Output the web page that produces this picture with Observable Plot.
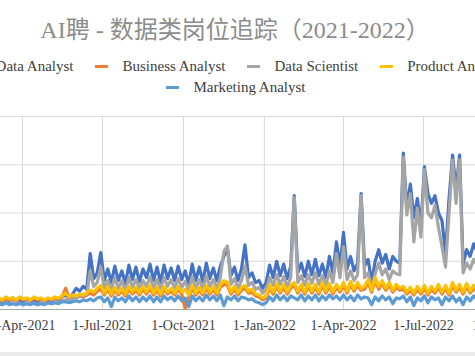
<!DOCTYPE html>
<html><head><meta charset="utf-8">
<script src="https://cdn.jsdelivr.net/npm/d3@7"></script>
<script src="https://cdn.jsdelivr.net/npm/@observablehq/plot@0.6"></script>
<style>
body{margin:0;background:#fff;}
:root{--serif:"Liberation Serif","Times New Roman",Times,Tinos,"Noto Serif","DejaVu Serif",serif;}
#frame{position:relative;width:475px;height:356px;overflow:hidden;background:#fff;font-family:var(--serif);}
#title{position:absolute;left:0;width:470px;top:15px;line-height:30px;text-align:center;font-size:24px;color:#8c8c8c;font-family:"Liberation Serif","Times New Roman",Times,"Noto Sans CJK SC",serif;white-space:nowrap;}
.legrow{position:absolute;left:-100px;width:672px;display:flex;justify-content:center;gap:22px;font-size:15px;line-height:20px;color:#404040;white-space:nowrap;font-family:var(--serif);}
.item{display:flex;align-items:center;}
.sw{width:13px;height:3px;margin-right:14px;}
#chart{position:absolute;left:0;top:100px;}
#bottom{position:absolute;left:0;bottom:0;width:475px;height:4px;background:#ebebeb;}
</style></head>
<body>
<div id="frame">
  <div id="title"></div>
  <div class="legrow" id="row1" style="top:56px"></div>
  <div class="legrow" id="row2" style="top:77px"></div>
  <div id="chart"></div>
  <div id="bottom"></div>
</div>
<script>
const titleText = "AI聘 - 数据类岗位追踪（2021-2022）";
const seriesNames = ["Data Analyst", "Business Analyst", "Data Scientist", "Product Analyst", "Marketing Analyst"];
const seriesColors = ["#4472C4", "#ED7D31", "#A5A5A5", "#FFC000", "#5B9BD5"];
const startDate = "2021-03-05";   // first sample, one sample every 4 days
const stepDays = 4;
const tickLabels = ["2021-04-01", "2021-07-01", "2021-10-01", "2022-01-01", "2022-04-01", "2022-07-01", "2022-10-01"];

const dataAnalyst = [
  10, 8, 11, 9, 12, 9, 10, 8, 11, 9,
  10, 8, 11, 9, 10, 9, 12, 10, 13, 15,
  12, 16, 22, 19, 24, 21, 58, 32, 38, 59,
  30, 42, 28, 45, 30, 40, 27, 46, 31, 44,
  29, 42, 33, 47, 30, 44, 28, 46, 32, 43,
  30, 45, 31, 40, 26, 47, 30, 44, 29, 48,
  32, 43, 30, 45, 55, 64, 35, 44, 30, 42,
  67, 33, 38, 28, 30, 22, 28, 46, 33, 50,
  35, 47, 32, 45, 118, 38, 48, 34, 50, 36,
  52, 35, 47, 33, 55, 38, 70, 45, 80, 42,
  55, 40, 48, 120, 45, 52, 28, 50, 62, 48,
  57, 42, 55, 50, 48, 162, 105, 130, 95, 115,
  85, 148, 120, 110, 118, 100, 92, 58, 115, 160,
  125, 160, 47, 62, 55, 68, 60
];
const businessAnalyst = [
  10, 9, 11, 10, 11, 9, 12, 10, 11, 9,
  12, 10, 11, 9, 11, 10, 12, 11, 13, 22,
  12, 13, 12, 14, 13, 15, 17, 15, 19, 21,
  15, 21, 14, 20, 15, 19, 14, 21, 16, 20,
  15, 21, 16, 22, 15, 20, 14, 21, 16, 19,
  15, 21, 16, 1, 13, 22, 15, 20, 15, 22,
  16, 21, 15, 23, 26, 25, 16, 21, 15, 20,
  22, 17, 18, 14, 13, 10, 12, 22, 16, 24,
  17, 23, 16, 22, 25, 17, 23, 16, 24, 17,
  23, 16, 25, 17, 24, 16, 23, 18, 25, 17,
  26, 19, 25, 20, 21, 28, 18, 30, 21, 27,
  20, 25, 18, 23, 20, 21, 16, 20, 15, 21,
  16, 22, 15, 21, 17, 23, 16, 22, 15, 25,
  18, 23, 16, 24, 17, 22, 18
];
const dataScientist = [
  6, 5, 7, 6, 7, 5, 6, 5, 7, 6,
  6, 5, 7, 6, 7, 6, 8, 7, 9, 10,
  9, 11, 14, 13, 16, 15, 40, 24, 28, 44,
  22, 30, 21, 33, 22, 30, 20, 33, 23, 31,
  22, 30, 24, 34, 22, 31, 21, 33, 24, 31,
  22, 32, 23, 29, 20, 34, 22, 31, 21, 35,
  24, 31, 22, 33, 60, 66, 26, 32, 22, 30,
  45, 25, 28, 21, 23, 17, 21, 33, 25, 36,
  26, 34, 24, 33, 116, 28, 35, 25, 36, 27,
  38, 26, 35, 25, 40, 28, 58, 33, 65, 31,
  40, 30, 36, 118, 33, 38, 22, 37, 48, 36,
  42, 31, 40, 37, 36, 158, 98, 120, 70, 105,
  75, 145, 100, 95, 108, 85, 65, 44, 100, 155,
  110, 155, 38, 48, 42, 52, 46
];
const productAnalyst = [
  12, 10, 13, 11, 12, 10, 13, 11, 12, 10,
  13, 11, 12, 10, 12, 11, 13, 12, 14, 17,
  13, 15, 14, 16, 15, 17, 20, 18, 22, 25,
  17, 24, 16, 23, 17, 22, 16, 24, 18, 23,
  17, 24, 18, 25, 17, 23, 16, 24, 18, 22,
  17, 24, 18, 21, 15, 25, 17, 23, 17, 25,
  18, 24, 17, 26, 30, 28, 18, 24, 17, 23,
  25, 19, 21, 16, 15, 12, 14, 25, 18, 27,
  19, 26, 18, 25, 28, 19, 26, 18, 27, 19,
  26, 18, 28, 19, 27, 18, 26, 20, 28, 19,
  29, 21, 28, 22, 24, 31, 20, 33, 24, 30,
  22, 28, 20, 26, 22, 24, 18, 23, 17, 24,
  18, 25, 17, 24, 19, 26, 18, 25, 17, 28,
  20, 26, 18, 27, 19, 25, 20
];
const marketingAnalyst = [
  6, 5, 7, 5, 6, 5, 7, 5, 6, 5,
  7, 5, 6, 5, 7, 6, 7, 6, 8, 8,
  7, 8, 9, 8, 10, 9, 11, 9, 12, 13,
  8, 12, 3, 13, 9, 12, 8, 14, 9, 13,
  8, 13, 9, 14, 8, 13, 8, 14, 10, 13,
  9, 14, 9, 12, 3, 14, 9, 13, 9, 15,
  10, 14, 9, 15, 4, 13, 10, 14, 9, 13,
  12, 10, 11, 8, 7, 5, 7, 13, 9, 15,
  10, 14, 9, 14, 12, 10, 15, 9, 14, 10,
  15, 9, 14, 10, 15, 11, 14, 10, 15, 10,
  14, 9, 15, 11, 13, 12, 5, 13, 9, 14,
  10, 13, 6, 12, 11, 14, 8, 13, 4, 12,
  9, 14, 7, 13, 10, 12, 5, 13, 9, 14,
  8, 12, 5, 13, 9, 14, 10
];
const seriesValues = [dataAnalyst, businessAnalyst, dataScientist, productAnalyst, marketingAnalyst];

document.getElementById("title").textContent = titleText;
function legendItem(k) {
  const it = document.createElement("div"); it.className = "item";
  const sw = document.createElement("div"); sw.className = "sw"; sw.style.background = seriesColors[k];
  const tx = document.createElement("span"); tx.textContent = seriesNames[k];
  it.append(sw, tx); return it;
}
[0,1,2,3].forEach(k => document.getElementById("row1").append(legendItem(k)));
document.getElementById("row2").append(legendItem(4));

const start = new Date(startDate + "T00:00:00Z");
const tables = seriesValues.map((vals, k) => vals.map((v, i) => ({date: d3.utcDay.offset(start, i * stepDays), value: v, series: seriesNames[k]})));
const ticks = tickLabels.map(s => new Date(s + "T00:00:00Z"));
const fmt = d3.utcFormat("%-d-%b-%Y");

const chart = Plot.plot({
  width: 475, height: 240,
  marginLeft: 0, marginRight: 0, marginTop: 16, marginBottom: 31,
  style: {background: "transparent", overflow: "visible", fontFamily: "'Liberation Serif','Times New Roman',Times,Tinos,'Noto Serif','DejaVu Serif',serif"},
  x: {type: "utc", domain: [new Date("2021-03-07T00:00:00Z"), new Date("2022-08-29T02:00:00Z")]},
  y: {domain: [0, 200], axis: null},
  marks: [
    Plot.ruleY([50, 100, 150, 200], {stroke: "#d9d9d9", strokeWidth: 1}),
    Plot.ruleX(ticks, {stroke: "#d9d9d9", strokeWidth: 1}),
    ...tables.map((t, k) => Plot.line(t, {x: "date", y: "value", stroke: seriesColors[k], strokeWidth: 3.2, strokeLinejoin: "round", clip: true})),
    Plot.ruleY([0], {stroke: "#a6a6a6", strokeWidth: 1}),
    Plot.axisX(ticks, {tickSize: 0, tickPadding: 11, tickFormat: fmt, fontSize: 14, fill: "#404040", label: null})
  ]
});
document.getElementById("chart").append(chart);
</script>
</body></html>
